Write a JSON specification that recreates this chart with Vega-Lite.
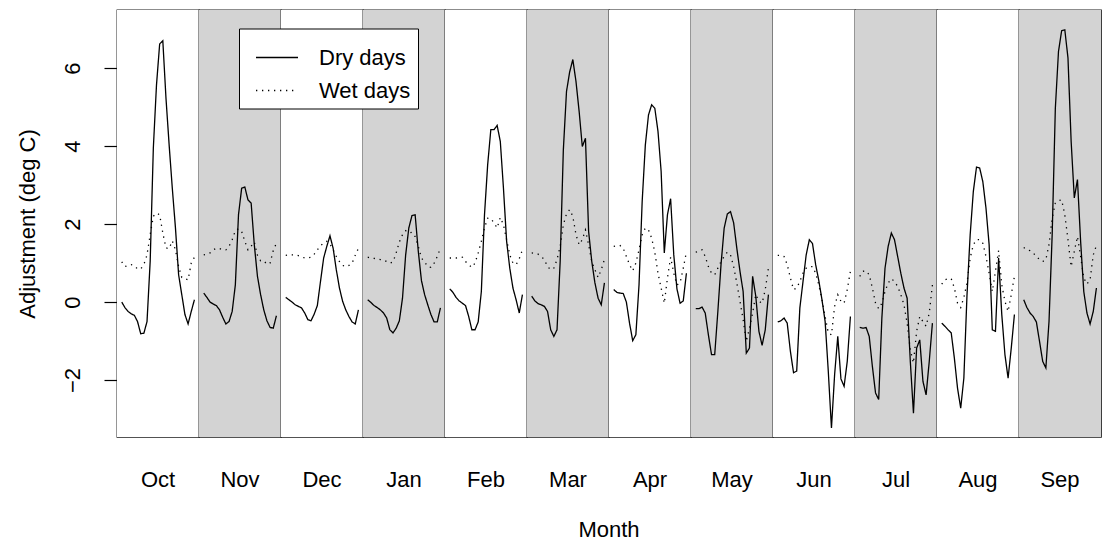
{
  "$schema": "https://vega.github.io/schema/vega-lite/v6.json",
  "autosize": {"type": "pad"},
  "padding": {"left": 16, "top": 9, "right": 0, "bottom": 0},
  "background": "white",
  "bounds": "flush",
  "data": {"values": [
    {"m":"Oct","h":0,"dry":0.0,"wet":1.03},{"m":"Oct","h":1,"dry":-0.14,"wet":0.91},{"m":"Oct","h":2,"dry":-0.24,"wet":0.94},{"m":"Oct","h":3,"dry":-0.3,"wet":0.96},{"m":"Oct","h":4,"dry":-0.34,"wet":0.93},{"m":"Oct","h":5,"dry":-0.5,"wet":0.85},{"m":"Oct","h":6,"dry":-0.81,"wet":0.85},{"m":"Oct","h":7,"dry":-0.8,"wet":0.96},{"m":"Oct","h":8,"dry":-0.5,"wet":1.21},{"m":"Oct","h":9,"dry":1.04,"wet":1.73},{"m":"Oct","h":10,"dry":3.95,"wet":2.2},{"m":"Oct","h":11,"dry":5.57,"wet":2.28},{"m":"Oct","h":12,"dry":6.62,"wet":2.24},{"m":"Oct","h":13,"dry":6.7,"wet":1.77},{"m":"Oct","h":14,"dry":5.23,"wet":1.39},{"m":"Oct","h":15,"dry":4.03,"wet":1.37},{"m":"Oct","h":16,"dry":2.92,"wet":1.57},{"m":"Oct","h":17,"dry":1.9,"wet":1.34},{"m":"Oct","h":18,"dry":0.7,"wet":0.91},{"m":"Oct","h":19,"dry":0.19,"wet":0.63},{"m":"Oct","h":20,"dry":-0.32,"wet":0.6},{"m":"Oct","h":21,"dry":-0.56,"wet":0.57},{"m":"Oct","h":22,"dry":-0.24,"wet":1.0},{"m":"Oct","h":23,"dry":0.06,"wet":1.15},
    {"m":"Nov","h":0,"dry":0.23,"wet":1.21},{"m":"Nov","h":1,"dry":0.12,"wet":1.23},{"m":"Nov","h":2,"dry":0.0,"wet":1.26},{"m":"Nov","h":3,"dry":-0.05,"wet":1.34},{"m":"Nov","h":4,"dry":-0.09,"wet":1.38},{"m":"Nov","h":5,"dry":-0.2,"wet":1.37},{"m":"Nov","h":6,"dry":-0.39,"wet":1.34},{"m":"Nov","h":7,"dry":-0.56,"wet":1.34},{"m":"Nov","h":8,"dry":-0.5,"wet":1.43},{"m":"Nov","h":9,"dry":-0.24,"wet":1.6},{"m":"Nov","h":10,"dry":0.44,"wet":1.83},{"m":"Nov","h":11,"dry":2.24,"wet":1.88},{"m":"Nov","h":12,"dry":2.92,"wet":1.81},{"m":"Nov","h":13,"dry":2.95,"wet":1.56},{"m":"Nov","h":14,"dry":2.62,"wet":1.34},{"m":"Nov","h":15,"dry":2.54,"wet":1.43},{"m":"Nov","h":16,"dry":1.47,"wet":1.54},{"m":"Nov","h":17,"dry":0.66,"wet":1.2},{"m":"Nov","h":18,"dry":0.19,"wet":1.06},{"m":"Nov","h":19,"dry":-0.2,"wet":1.06},{"m":"Nov","h":20,"dry":-0.48,"wet":0.97},{"m":"Nov","h":21,"dry":-0.65,"wet":1.0},{"m":"Nov","h":22,"dry":-0.67,"wet":1.32},{"m":"Nov","h":23,"dry":-0.35,"wet":1.51},
    {"m":"Dec","h":0,"dry":0.12,"wet":1.2},{"m":"Dec","h":1,"dry":0.06,"wet":1.21},{"m":"Dec","h":2,"dry":0.0,"wet":1.21},{"m":"Dec","h":3,"dry":-0.07,"wet":1.21},{"m":"Dec","h":4,"dry":-0.11,"wet":1.19},{"m":"Dec","h":5,"dry":-0.15,"wet":1.16},{"m":"Dec","h":6,"dry":-0.28,"wet":1.13},{"m":"Dec","h":7,"dry":-0.45,"wet":1.13},{"m":"Dec","h":8,"dry":-0.48,"wet":1.15},{"m":"Dec","h":9,"dry":-0.31,"wet":1.23},{"m":"Dec","h":10,"dry":-0.09,"wet":1.34},{"m":"Dec","h":11,"dry":0.53,"wet":1.45},{"m":"Dec","h":12,"dry":1.13,"wet":1.51},{"m":"Dec","h":13,"dry":1.43,"wet":1.56},{"m":"Dec","h":14,"dry":1.7,"wet":1.49},{"m":"Dec","h":15,"dry":1.38,"wet":1.34},{"m":"Dec","h":16,"dry":0.83,"wet":1.17},{"m":"Dec","h":17,"dry":0.36,"wet":1.04},{"m":"Dec","h":18,"dry":0.02,"wet":0.94},{"m":"Dec","h":19,"dry":-0.2,"wet":0.91},{"m":"Dec","h":20,"dry":-0.37,"wet":0.94},{"m":"Dec","h":21,"dry":-0.51,"wet":1.0},{"m":"Dec","h":22,"dry":-0.56,"wet":1.2},{"m":"Dec","h":23,"dry":-0.2,"wet":1.38},
    {"m":"Jan","h":0,"dry":0.06,"wet":1.15},{"m":"Jan","h":1,"dry":-0.01,"wet":1.13},{"m":"Jan","h":2,"dry":-0.09,"wet":1.12},{"m":"Jan","h":3,"dry":-0.14,"wet":1.11},{"m":"Jan","h":4,"dry":-0.2,"wet":1.09},{"m":"Jan","h":5,"dry":-0.28,"wet":1.08},{"m":"Jan","h":6,"dry":-0.41,"wet":1.04},{"m":"Jan","h":7,"dry":-0.71,"wet":1.0},{"m":"Jan","h":8,"dry":-0.79,"wet":1.03},{"m":"Jan","h":9,"dry":-0.67,"wet":1.26},{"m":"Jan","h":10,"dry":-0.48,"wet":1.54},{"m":"Jan","h":11,"dry":0.1,"wet":1.73},{"m":"Jan","h":12,"dry":1.21,"wet":1.83},{"m":"Jan","h":13,"dry":1.9,"wet":1.77},{"m":"Jan","h":14,"dry":2.22,"wet":1.79},{"m":"Jan","h":15,"dry":2.24,"wet":1.68},{"m":"Jan","h":16,"dry":1.3,"wet":1.43},{"m":"Jan","h":17,"dry":0.55,"wet":1.13},{"m":"Jan","h":18,"dry":0.19,"wet":1.03},{"m":"Jan","h":19,"dry":-0.07,"wet":0.91},{"m":"Jan","h":20,"dry":-0.32,"wet":0.89},{"m":"Jan","h":21,"dry":-0.51,"wet":1.0},{"m":"Jan","h":22,"dry":-0.51,"wet":1.17},{"m":"Jan","h":23,"dry":-0.15,"wet":1.38},
    {"m":"Feb","h":0,"dry":0.34,"wet":1.13},{"m":"Feb","h":1,"dry":0.25,"wet":1.13},{"m":"Feb","h":2,"dry":0.12,"wet":1.13},{"m":"Feb","h":3,"dry":0.03,"wet":1.14},{"m":"Feb","h":4,"dry":-0.03,"wet":1.15},{"m":"Feb","h":5,"dry":-0.09,"wet":1.04},{"m":"Feb","h":6,"dry":-0.37,"wet":0.96},{"m":"Feb","h":7,"dry":-0.71,"wet":0.89},{"m":"Feb","h":8,"dry":-0.71,"wet":1.0},{"m":"Feb","h":9,"dry":-0.51,"wet":1.26},{"m":"Feb","h":10,"dry":0.27,"wet":1.56},{"m":"Feb","h":11,"dry":2.24,"wet":1.9},{"m":"Feb","h":12,"dry":3.52,"wet":2.15},{"m":"Feb","h":13,"dry":4.42,"wet":2.14},{"m":"Feb","h":14,"dry":4.42,"wet":2.03},{"m":"Feb","h":15,"dry":4.53,"wet":1.9},{"m":"Feb","h":16,"dry":4.12,"wet":2.17},{"m":"Feb","h":17,"dry":2.92,"wet":1.98},{"m":"Feb","h":18,"dry":1.56,"wet":1.6},{"m":"Feb","h":19,"dry":0.87,"wet":1.21},{"m":"Feb","h":20,"dry":0.36,"wet":1.0},{"m":"Feb","h":21,"dry":0.06,"wet":0.96},{"m":"Feb","h":22,"dry":-0.28,"wet":1.11},{"m":"Feb","h":23,"dry":0.19,"wet":1.34},
    {"m":"Mar","h":0,"dry":0.15,"wet":1.26},{"m":"Mar","h":1,"dry":0.03,"wet":1.25},{"m":"Mar","h":2,"dry":-0.04,"wet":1.23},{"m":"Mar","h":3,"dry":-0.07,"wet":1.17},{"m":"Mar","h":4,"dry":-0.11,"wet":1.09},{"m":"Mar","h":5,"dry":-0.24,"wet":0.91},{"m":"Mar","h":6,"dry":-0.71,"wet":0.83},{"m":"Mar","h":7,"dry":-0.88,"wet":0.87},{"m":"Mar","h":8,"dry":-0.71,"wet":1.09},{"m":"Mar","h":9,"dry":1.04,"wet":1.43},{"m":"Mar","h":10,"dry":3.9,"wet":1.98},{"m":"Mar","h":11,"dry":5.4,"wet":2.26},{"m":"Mar","h":12,"dry":5.9,"wet":2.37},{"m":"Mar","h":13,"dry":6.22,"wet":2.2},{"m":"Mar","h":14,"dry":5.66,"wet":1.73},{"m":"Mar","h":15,"dry":4.89,"wet":1.47},{"m":"Mar","h":16,"dry":3.99,"wet":1.6},{"m":"Mar","h":17,"dry":4.2,"wet":1.85},{"m":"Mar","h":18,"dry":1.81,"wet":1.47},{"m":"Mar","h":19,"dry":1.04,"wet":1.04},{"m":"Mar","h":20,"dry":0.49,"wet":0.83},{"m":"Mar","h":21,"dry":0.1,"wet":0.63},{"m":"Mar","h":22,"dry":-0.07,"wet":0.83},{"m":"Mar","h":23,"dry":0.49,"wet":1.09},
    {"m":"Apr","h":0,"dry":0.32,"wet":1.43},{"m":"Apr","h":1,"dry":0.25,"wet":1.44},{"m":"Apr","h":2,"dry":0.23,"wet":1.45},{"m":"Apr","h":3,"dry":0.22,"wet":1.38},{"m":"Apr","h":4,"dry":0.0,"wet":1.17},{"m":"Apr","h":5,"dry":-0.54,"wet":0.96},{"m":"Apr","h":6,"dry":-0.99,"wet":0.8},{"m":"Apr","h":7,"dry":-0.84,"wet":1.0},{"m":"Apr","h":8,"dry":0.44,"wet":1.34},{"m":"Apr","h":9,"dry":2.58,"wet":1.73},{"m":"Apr","h":10,"dry":4.03,"wet":1.9},{"m":"Apr","h":11,"dry":4.8,"wet":1.85},{"m":"Apr","h":12,"dry":5.06,"wet":1.64},{"m":"Apr","h":13,"dry":4.97,"wet":1.28},{"m":"Apr","h":14,"dry":4.38,"wet":0.74},{"m":"Apr","h":15,"dry":3.35,"wet":0.36},{"m":"Apr","h":16,"dry":1.26,"wet":-0.03},{"m":"Apr","h":17,"dry":2.24,"wet":0.62},{"m":"Apr","h":18,"dry":2.65,"wet":1.15},{"m":"Apr","h":19,"dry":1.21,"wet":0.74},{"m":"Apr","h":20,"dry":0.34,"wet":0.44},{"m":"Apr","h":21,"dry":-0.03,"wet":0.49},{"m":"Apr","h":22,"dry":0.03,"wet":0.87},{"m":"Apr","h":23,"dry":0.74,"wet":1.28},
    {"m":"May","h":0,"dry":-0.17,"wet":1.28},{"m":"May","h":1,"dry":-0.17,"wet":1.3},{"m":"May","h":2,"dry":-0.13,"wet":1.34},{"m":"May","h":3,"dry":-0.28,"wet":1.17},{"m":"May","h":4,"dry":-0.84,"wet":0.91},{"m":"May","h":5,"dry":-1.35,"wet":0.74},{"m":"May","h":6,"dry":-1.35,"wet":0.7},{"m":"May","h":7,"dry":-0.24,"wet":0.87},{"m":"May","h":8,"dry":0.96,"wet":1.04},{"m":"May","h":9,"dry":1.9,"wet":1.17},{"m":"May","h":10,"dry":2.26,"wet":1.28},{"m":"May","h":11,"dry":2.32,"wet":1.21},{"m":"May","h":12,"dry":2.03,"wet":0.91},{"m":"May","h":13,"dry":1.38,"wet":0.49},{"m":"May","h":14,"dry":0.79,"wet":0.02},{"m":"May","h":15,"dry":0.27,"wet":-0.45},{"m":"May","h":16,"dry":-1.31,"wet":-1.01},{"m":"May","h":17,"dry":-1.18,"wet":-0.67},{"m":"May","h":18,"dry":0.66,"wet":-0.28},{"m":"May","h":19,"dry":0.15,"wet":0.19},{"m":"May","h":20,"dry":-0.75,"wet":0.02},{"m":"May","h":21,"dry":-1.11,"wet":-0.03},{"m":"May","h":22,"dry":-0.71,"wet":0.32},{"m":"May","h":23,"dry":0.19,"wet":0.87},
    {"m":"Jun","h":0,"dry":-0.51,"wet":1.2},{"m":"Jun","h":1,"dry":-0.48,"wet":1.2},{"m":"Jun","h":2,"dry":-0.41,"wet":1.17},{"m":"Jun","h":3,"dry":-0.54,"wet":0.96},{"m":"Jun","h":4,"dry":-1.26,"wet":0.62},{"m":"Jun","h":5,"dry":-1.81,"wet":0.32},{"m":"Jun","h":6,"dry":-1.77,"wet":0.36},{"m":"Jun","h":7,"dry":-0.15,"wet":0.53},{"m":"Jun","h":8,"dry":0.53,"wet":0.74},{"m":"Jun","h":9,"dry":1.21,"wet":0.87},{"m":"Jun","h":10,"dry":1.6,"wet":0.91},{"m":"Jun","h":11,"dry":1.5,"wet":0.91},{"m":"Jun","h":12,"dry":0.96,"wet":0.74},{"m":"Jun","h":13,"dry":0.55,"wet":0.44},{"m":"Jun","h":14,"dry":0.06,"wet":0.06},{"m":"Jun","h":15,"dry":-0.5,"wet":-0.37},{"m":"Jun","h":16,"dry":-1.78,"wet":-0.79},{"m":"Jun","h":17,"dry":-3.23,"wet":-0.84},{"m":"Jun","h":18,"dry":-1.86,"wet":-0.11},{"m":"Jun","h":19,"dry":-0.88,"wet":0.19},{"m":"Jun","h":20,"dry":-1.97,"wet":0.02},{"m":"Jun","h":21,"dry":-2.16,"wet":-0.03},{"m":"Jun","h":22,"dry":-1.52,"wet":0.32},{"m":"Jun","h":23,"dry":-0.37,"wet":0.79},
    {"m":"Jul","h":0,"dry":-0.65,"wet":0.66},{"m":"Jul","h":1,"dry":-0.67,"wet":0.79},{"m":"Jul","h":2,"dry":-0.65,"wet":0.8},{"m":"Jul","h":3,"dry":-0.88,"wet":0.7},{"m":"Jul","h":4,"dry":-1.65,"wet":0.36},{"m":"Jul","h":5,"dry":-2.33,"wet":-0.03},{"m":"Jul","h":6,"dry":-2.5,"wet":-0.17},{"m":"Jul","h":7,"dry":-0.41,"wet":-0.03},{"m":"Jul","h":8,"dry":0.87,"wet":0.27},{"m":"Jul","h":9,"dry":1.43,"wet":0.49},{"m":"Jul","h":10,"dry":1.77,"wet":0.6},{"m":"Jul","h":11,"dry":1.6,"wet":0.53},{"m":"Jul","h":12,"dry":1.17,"wet":0.4},{"m":"Jul","h":13,"dry":0.74,"wet":0.19},{"m":"Jul","h":14,"dry":0.36,"wet":-0.07},{"m":"Jul","h":15,"dry":0.1,"wet":-0.54},{"m":"Jul","h":16,"dry":-1.52,"wet":-1.22},{"m":"Jul","h":17,"dry":-2.85,"wet":-1.56},{"m":"Jul","h":18,"dry":-1.18,"wet":-0.75},{"m":"Jul","h":19,"dry":-0.97,"wet":-0.37},{"m":"Jul","h":20,"dry":-2.03,"wet":-0.5},{"m":"Jul","h":21,"dry":-2.38,"wet":-0.62},{"m":"Jul","h":22,"dry":-1.52,"wet":-0.28},{"m":"Jul","h":23,"dry":-0.54,"wet":0.44},
    {"m":"Aug","h":0,"dry":-0.54,"wet":0.46},{"m":"Aug","h":1,"dry":-0.62,"wet":0.57},{"m":"Aug","h":2,"dry":-0.71,"wet":0.6},{"m":"Aug","h":3,"dry":-0.79,"wet":0.6},{"m":"Aug","h":4,"dry":-1.44,"wet":0.36},{"m":"Aug","h":5,"dry":-2.21,"wet":-0.03},{"m":"Aug","h":6,"dry":-2.72,"wet":-0.14},{"m":"Aug","h":7,"dry":-1.95,"wet":0.12},{"m":"Aug","h":8,"dry":0.19,"wet":0.49},{"m":"Aug","h":9,"dry":1.73,"wet":1.13},{"m":"Aug","h":10,"dry":2.84,"wet":1.47},{"m":"Aug","h":11,"dry":3.46,"wet":1.6},{"m":"Aug","h":12,"dry":3.44,"wet":1.6},{"m":"Aug","h":13,"dry":3.09,"wet":1.51},{"m":"Aug","h":14,"dry":2.41,"wet":1.17},{"m":"Aug","h":15,"dry":1.47,"wet":0.74},{"m":"Aug","h":16,"dry":-0.71,"wet":0.27},{"m":"Aug","h":17,"dry":-0.75,"wet":0.79},{"m":"Aug","h":18,"dry":1.13,"wet":1.32},{"m":"Aug","h":19,"dry":-0.32,"wet":0.44},{"m":"Aug","h":20,"dry":-1.35,"wet":0.02},{"m":"Aug","h":21,"dry":-1.95,"wet":-0.24},{"m":"Aug","h":22,"dry":-1.18,"wet":0.19},{"m":"Aug","h":23,"dry":-0.32,"wet":0.66},
    {"m":"Sep","h":0,"dry":0.06,"wet":1.4},{"m":"Sep","h":1,"dry":-0.14,"wet":1.34},{"m":"Sep","h":2,"dry":-0.28,"wet":1.32},{"m":"Sep","h":3,"dry":-0.37,"wet":1.26},{"m":"Sep","h":4,"dry":-0.51,"wet":1.17},{"m":"Sep","h":5,"dry":-1.01,"wet":1.09},{"m":"Sep","h":6,"dry":-1.52,"wet":1.04},{"m":"Sep","h":7,"dry":-1.69,"wet":1.09},{"m":"Sep","h":8,"dry":-0.5,"wet":1.47},{"m":"Sep","h":9,"dry":1.73,"wet":2.15},{"m":"Sep","h":10,"dry":4.97,"wet":2.54},{"m":"Sep","h":11,"dry":6.43,"wet":2.6},{"m":"Sep","h":12,"dry":6.96,"wet":2.62},{"m":"Sep","h":13,"dry":6.98,"wet":2.24},{"m":"Sep","h":14,"dry":6.26,"wet":1.6},{"m":"Sep","h":15,"dry":4.12,"wet":0.91},{"m":"Sep","h":16,"dry":2.67,"wet":1.3},{"m":"Sep","h":17,"dry":3.14,"wet":1.68},{"m":"Sep","h":18,"dry":1.56,"wet":1.17},{"m":"Sep","h":19,"dry":0.27,"wet":0.62},{"m":"Sep","h":20,"dry":-0.28,"wet":0.46},{"m":"Sep","h":21,"dry":-0.56,"wet":0.57},{"m":"Sep","h":22,"dry":-0.24,"wet":1.21},{"m":"Sep","h":23,"dry":0.36,"wet":1.45}
  ]},
  "facet": {
    "column": {
      "field": "m",
      "type": "nominal",
      "sort": ["Oct","Nov","Dec","Jan","Feb","Mar","Apr","May","Jun","Jul","Aug","Sep"],
      "title": "Month",
      "header": {
        "labelOrient": "bottom",
        "titleOrient": "bottom",
        "labelFont": "Liberation Sans",
        "labelFontSize": 22,
        "labelColor": "black",
        "labelBaseline": "alphabetic",
        "labelPadding": 50,
        "titleFont": "Liberation Sans",
        "titleFontSize": 22,
        "titleFontWeight": "normal",
        "titleColor": "black",
        "titleBaseline": "alphabetic",
        "titlePadding": 36
      }
    }
  },
  "spacing": 0,
  "spec": {
    "width": 82,
    "height": 427,
    "layer": [
      {
        "transform": [{"aggregate": [{"op": "count", "as": "n"}], "groupby": ["m"]}],
        "mark": {"type": "rect"},
        "encoding": {
          "fill": {
            "field": "m",
            "type": "nominal",
            "scale": {
              "domain": ["Oct","Nov","Dec","Jan","Feb","Mar","Apr","May","Jun","Jul","Aug","Sep"],
              "range": ["#ffffff","#d3d3d3","#ffffff","#d3d3d3","#ffffff","#d3d3d3","#ffffff","#d3d3d3","#ffffff","#d3d3d3","#ffffff","#d3d3d3"]
            },
            "legend": null
          }
        }
      },
      {
        "transform": [{"fold": ["dry", "wet"], "as": ["series", "value"]}],
        "mark": {"type": "line", "color": "black", "strokeWidth": 1.3},
        "encoding": {
          "x": {
            "field": "h",
            "type": "quantitative",
            "scale": {"domain": [-1.5, 24.45], "nice": false, "zero": false},
            "axis": null
          },
          "y": {
            "field": "value",
            "type": "quantitative",
            "scale": {"domain": [-3.46, 7.49], "nice": false, "zero": false},
            "axis": {
              "title": "Adjustment (deg C)",
              "values": [-2, 0, 2, 4, 6],
              "domain": false,
              "grid": false,
              "tickSize": 13,
              "tickWidth": 1.2,
              "tickColor": "black",
              "labelPadding": 25,
              "labelAngle": -90,
              "labelAlign": "center",
              "labelBaseline": "alphabetic",
              "labelFont": "Liberation Sans",
              "labelFontSize": 22,
              "labelColor": "black",
              "titleFont": "Liberation Sans",
              "titleFontSize": 22,
              "titleFontWeight": "normal",
              "titleColor": "black",
              "titlePadding": 22
            }
          },
          "strokeDash": {
            "field": "series",
            "type": "nominal",
            "scale": {"domain": ["dry", "wet"], "range": [[1, 0], [1.3, 4.7]]},
            "legend": {
              "title": null,
              "orient": "none",
              "legendX": 122,
              "legendY": 18.5,
              "labelExpr": "datum.label == 'dry' ? 'Dry days' : 'Wet days'",
              "labelFont": "Liberation Sans",
              "labelFontSize": 22,
              "labelColor": "black",
              "labelOffset": 20,
              "symbolType": "stroke",
              "symbolSize": 1764,
              "symbolStrokeWidth": 1.3,
              "symbolStrokeColor": "black",
              "symbolOffset": 9,
              "rowPadding": 0,
              "padding": 7,
              "strokeColor": "black",
              "fillColor": "white"
            }
          }
        }
      }
    ]
  },
  "config": {
    "view": {"stroke": "#1a1a1a", "strokeWidth": 1.3},
    "font": "Liberation Sans"
  }
}
